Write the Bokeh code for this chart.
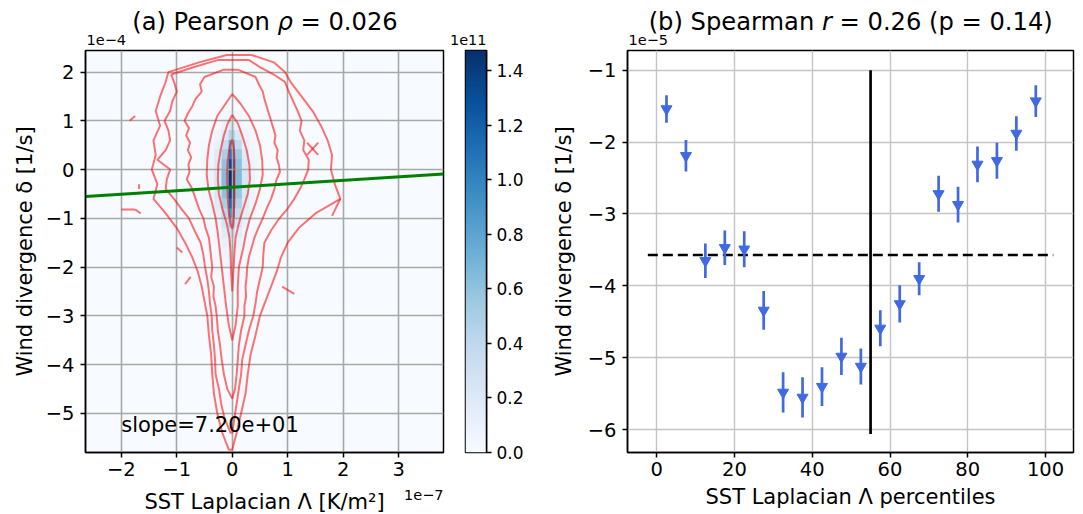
import numpy as np
from bokeh.plotting import figure
from bokeh.layouts import row, column
from bokeh.models import (Range1d, CustomJSTickFormatter, PrintfTickFormatter, Label,
                          LinearColorMapper, ColumnDataSource)
from bokeh.palettes import Blues256
from bokeh.embed import file_html
from bokeh.resources import INLINE

FONT = "DejaVu Sans"

# ---------------------------------------------------------------- panel (b) data
# SST Laplacian percentile bins (bin centres) and mean wind divergence [1e-5 1/s]
pct_centers = [2.5, 7.5, 12.5, 17.5, 22.5, 27.5, 32.5, 37.5, 42.5, 47.5,
               52.5, 57.5, 62.5, 67.5, 72.5, 77.5, 82.5, 87.5, 92.5, 97.5]
div_mean = [-1.54, -2.19, -3.65, -3.47, -3.49, -4.34, -5.48, -5.55, -5.40, -4.98,
            -5.12, -4.59, -4.25, -3.90, -2.72, -2.87, -2.31, -2.26, -1.88, -1.43]
div_err = [0.19, 0.22, 0.24, 0.24, 0.25, 0.27, 0.28, 0.28, 0.27, 0.26,
           0.25, 0.25, 0.26, 0.23, 0.25, 0.25, 0.25, 0.25, 0.24, 0.22]
zero_lap_pct = 55.0                 # percentile where the Laplacian changes sign
zero_line_extent = [-6.06, -1.0]
mean_line_extent = [-2.3, 102.0]
spearman_r = 0.26
spearman_p = 0.14

# ---------------------------------------------------------------- panel (a) data
pearson_rho = 0.026
slope = 72.0                        # [1/s per K/m^2]
intercept = -3.63e-5                # [1/s]
lap_domain = [-2.646, 3.81]         # [1e-7 K/m^2]
div_domain = [-5.805, 2.443]        # [1e-4 1/s]

# joint density (1e11), bins of 0.12e-7 K/m^2 by 0.2e-4 1/s, rows from top to bottom
dens_x_edges = [-0.56, -0.44, -0.32, -0.20, -0.08, 0.04, 0.16, 0.28, 0.40, 0.52]
dens_y_top, dens_y_bottom = 1.2, -3.0
density_rows = [
    [0.00, 0.01, 0.02, 0.05, 0.10, 0.05, 0.02, 0.01, 0.00],
    [0.01, 0.02, 0.04, 0.10, 0.22, 0.10, 0.04, 0.02, 0.01],
    [0.01, 0.03, 0.08, 0.20, 0.45, 0.22, 0.08, 0.03, 0.01],
    [0.02, 0.05, 0.12, 0.35, 0.80, 0.38, 0.12, 0.05, 0.02],
    [0.03, 0.07, 0.18, 0.50, 1.05, 0.55, 0.18, 0.07, 0.03],
    [0.03, 0.08, 0.22, 0.60, 1.30, 0.62, 0.22, 0.08, 0.03],
    [0.04, 0.09, 0.24, 0.65, 1.475, 0.66, 0.24, 0.09, 0.04],
    [0.04, 0.09, 0.24, 0.65, 1.45, 0.64, 0.24, 0.09, 0.04],
    [0.03, 0.08, 0.22, 0.60, 1.35, 0.58, 0.22, 0.08, 0.03],
    [0.03, 0.07, 0.18, 0.50, 1.15, 0.48, 0.18, 0.07, 0.03],
    [0.02, 0.05, 0.14, 0.40, 0.90, 0.38, 0.14, 0.05, 0.02],
    [0.02, 0.04, 0.10, 0.28, 0.60, 0.26, 0.10, 0.04, 0.02],
    [0.01, 0.03, 0.07, 0.18, 0.35, 0.16, 0.07, 0.03, 0.01],
    [0.01, 0.02, 0.05, 0.12, 0.22, 0.10, 0.05, 0.02, 0.01],
    [0.00, 0.01, 0.04, 0.08, 0.16, 0.07, 0.03, 0.01, 0.00],
    [0.00, 0.01, 0.03, 0.06, 0.12, 0.05, 0.02, 0.01, 0.00],
    [0.00, 0.00, 0.02, 0.04, 0.10, 0.04, 0.02, 0.00, 0.00],
    [0.00, 0.00, 0.01, 0.03, 0.08, 0.03, 0.01, 0.00, 0.00],
    [0.00, 0.00, 0.01, 0.02, 0.06, 0.02, 0.01, 0.00, 0.00],
    [0.00, 0.00, 0.00, 0.01, 0.04, 0.01, 0.00, 0.00, 0.00],
    [0.00, 0.00, 0.00, 0.01, 0.03, 0.01, 0.00, 0.00, 0.00],
]
density_max = 1.475

# contour levels of the joint count: (divergence, left edge, right edge)
contour_levels = [
    ([0.62, 0.45, 0.2, 0.0, -0.3, -0.6, -0.9, -1.1, -1.22],
     [0.0, -0.05, -0.08, -0.09, -0.09, -0.08, -0.06, -0.03, 0.0],
     [0.0, 0.03, 0.04, 0.04, 0.04, 0.04, 0.03, 0.02, 0.0]),
    ([1.12, 0.95, 0.7, 0.4, 0.1, -0.2, -0.5, -0.8, -1.1, -1.4, -1.7, -2.1, -2.5],
     [0.0, -0.08, -0.15, -0.21, -0.25, -0.26, -0.24, -0.18, -0.10, -0.05, -0.03, -0.02, 0.0],
     [0.0, 0.10, 0.18, 0.26, 0.31, 0.32, 0.28, 0.20, 0.12, 0.06, 0.04, 0.02, 0.0]),
    ([1.55, 1.35, 1.1, 0.8, 0.5, 0.2, -0.1, -0.4, -0.7, -1.0, -1.3, -1.6, -2.0, -2.4, -2.8, -3.2, -3.5],
     [0.0, -0.12, -0.27, -0.36, -0.42, -0.45, -0.46, -0.43, -0.36, -0.30, -0.26, -0.23, -0.19, -0.15, -0.11, -0.06, 0.0],
     [0.0, 0.15, 0.30, 0.42, 0.50, 0.54, 0.55, 0.50, 0.42, 0.32, 0.25, 0.20, 0.12, 0.10, 0.10, 0.06, 0.0]),
    ([2.05, 1.9, 1.75, 1.6, 1.45, 1.3, 1.15, 1.0, 0.85, 0.7, 0.55, 0.4, 0.25, 0.1, -0.05, -0.2,
      -0.4, -0.6, -0.8, -1.0, -1.2, -1.4, -1.6, -1.8, -2.0, -2.2, -2.4, -2.6, -2.8, -3.0,
      -3.3, -3.6, -3.9, -4.2, -4.5, -4.7],
     [-0.15, -0.5, -0.58, -0.55, -0.66, -0.72, -0.80, -0.86, -0.78, -0.83, -0.76, -0.80, -0.74,
      -0.79, -0.77, -0.82, -0.72, -0.66, -0.60, -0.52, -0.48, -0.42, -0.40, -0.38, -0.36, -0.38,
      -0.33, -0.34, -0.30, -0.28, -0.26, -0.22, -0.19, -0.15, -0.09, 0.0],
     [0.1, 0.42, 0.48, 0.55, 0.58, 0.62, 0.66, 0.70, 0.74, 0.78, 0.76, 0.82, 0.80, 0.84, 0.86,
      0.80, 0.76, 0.70, 0.62, 0.55, 0.47, 0.40, 0.35, 0.30, 0.27, 0.26, 0.24, 0.25, 0.22, 0.22,
      0.16, 0.12, 0.10, 0.08, 0.05, 0.0]),
    ([2.25, 2.1, 1.95, 1.8, 1.6, 1.4, 1.2, 1.0, 0.8, 0.6, 0.4, 0.2, 0.0, -0.2, -0.4, -0.6, -0.8,
      -1.0, -1.25, -1.5, -1.75, -2.0, -2.25, -2.5, -2.75, -3.0, -3.3, -3.6, -3.9, -4.2, -4.5,
      -4.8, -5.1, -5.4],
     [-0.25, -0.7, -1.1, -1.05, -1.0, -1.08, -1.12, -1.22, -1.15, -1.12, -1.2, -1.35, -1.12,
      -1.18, -1.2, -1.05, -0.92, -0.78, -0.68, -0.57, -0.52, -0.49, -0.45, -0.42, -0.40, -0.37,
      -0.36, -0.33, -0.31, -0.30, -0.24, -0.20, -0.14, -0.03],
     [0.3, 0.5, 0.75, 0.95, 1.02, 1.1, 1.18, 1.25, 1.22, 1.3, 1.28, 1.38, 1.37, 1.3, 1.22, 1.12,
      1.0, 0.85, 0.70, 0.58, 0.56, 0.55, 0.50, 0.45, 0.42, 0.38, 0.30, 0.24, 0.18, 0.16, 0.12,
      0.08, 0.04, 0.0]),
    ([2.35, 2.2, 2.0, 1.8, 1.5, 1.2, 0.9, 0.6, 0.3, 0.0, -0.3, -0.6, -0.9, -1.2, -1.5, -1.8,
      -2.1, -2.4, -2.7, -3.0, -3.4, -3.8, -4.2, -4.6, -5.0, -5.4, -5.75],
     [-0.1, -0.6, -1.15, -1.2, -1.3, -1.38, -1.3, -1.42, -1.38, -1.45, -1.35, -1.42, -1.2, -1.0,
      -0.85, -0.72, -0.62, -0.55, -0.5, -0.45, -0.42, -0.38, -0.36, -0.33, -0.27, -0.18, -0.06],
     [0.35, 0.75, 0.95, 1.05, 1.25, 1.45, 1.6, 1.72, 1.8, 1.78, 1.85, 1.95, 1.5, 1.2, 1.0, 0.88,
      0.8, 0.7, 0.6, 0.5, 0.42, 0.33, 0.28, 0.24, 0.16, 0.08, 0.0]),
]
# isolated contour pieces around the outer level
frag_x0 = [-1.85, -2.0, -1.75, -1.68, 1.35, 1.35, 1.95, 0.9, -1.0, -0.85]
frag_y0 = [1.0, -0.82, -0.82, -0.3, 0.55, 0.3, -0.6, -2.4, -1.6, -2.35]
frag_x1 = [-1.75, -1.75, -1.65, -1.68, 1.55, 1.55, 1.8, 1.12, -0.9, -0.75]
frag_y1 = [1.1, -0.82, -0.9, -0.4, 0.3, 0.55, -0.95, -2.55, -1.7, -2.2]

cb_ticks = [0.0, 0.2, 0.4, 0.6, 0.8, 1.0, 1.2, 1.4]
a_xticks = [-2, -1, 0, 1, 2, 3]
a_yticks = [-5, -4, -3, -2, -1, 0, 1, 2]
b_xticks = [0, 20, 40, 60, 80, 100]
b_yticks = [-6, -5, -4, -3, -2, -1]

# ---------------------------------------------------------------- page geometry (px)
PAGE_W, PAGE_H = 1083, 514
TOP_H, BOTTOM_H = 49, 28
FRAME_H = 402
A_LEFT, A_FRAME_W, A_RIGHT = 85, 358, 12
CB_LEFT, CB_FRAME_W, CB_RIGHT = 10, 21, 54
B_LEFT, B_FRAME_W, B_RIGHT = 87, 446, 10
MAIN_TOP, MAIN_BOTTOM = 1, 34

a_x0 = A_LEFT
a_x1 = A_LEFT + A_FRAME_W
cb_x1 = a_x1 + A_RIGHT + CB_LEFT + CB_FRAME_W
b_x0 = cb_x1 + CB_RIGHT + B_LEFT
b_x1 = b_x0 + B_FRAME_W
frame_top = TOP_H + MAIN_TOP

TICK_PX = "19.5px"
LABEL_F = 21.0
TITLE_F = 24.2
OFFSET_F = 14.5
MID = 0.346          # baseline-to-middle distance of DejaVu Sans, in em

minus_fmt = CustomJSTickFormatter(code="""
    const v = Math.round(tick * 1000) / 1000;
    return (v < 0 ? '\u2212' : '') + Math.abs(v).toString();
""")

# light -> dark
pal = list(Blues256)
if int(pal[0][1:3], 16) < 128:
    pal = pal[::-1]
mapper = LinearColorMapper(palette=pal, low=0.0, high=density_max)


def style_axes(p, label_standoff_y):
    for ax in (p.xaxis[0], p.yaxis[0]):
        ax.major_label_text_font = FONT
        ax.major_label_text_font_size = TICK_PX
        ax.major_label_text_color = "black"
        ax.axis_label_text_font = FONT
        ax.axis_label_text_font_size = f"{LABEL_F}px"
        ax.axis_label_text_font_style = "normal"
        ax.axis_label_text_color = "black"
        ax.axis_line_color = "black"
        ax.axis_line_width = 1.5
        ax.major_tick_line_color = "black"
        ax.major_tick_line_width = 1.5
        ax.major_tick_out = 5
        ax.major_tick_in = 0
        ax.minor_tick_line_color = None
        ax.formatter = minus_fmt
    p.yaxis[0].major_label_standoff = 6
    p.xaxis[0].major_label_standoff = 4
    p.yaxis[0].axis_label_standoff = label_standoff_y
    p.outline_line_color = "black"
    p.outline_line_width = 1.5


def add_text(p, x, y, text, f, align="left", style="normal"):
    # (x, y) is the vertical middle of the text line
    p.add_layout(Label(x=x, y=y, text=text,
                       text_font=FONT, text_font_size=f"{f}px", text_align=align,
                       text_baseline="middle", text_font_style=style,
                       text_color="black"))


def strip_add(strip, x, page_baseline, text, f, align="left", style="normal"):
    # place a line of text in a strip by its baseline, given in page pixels
    top_px = strip.tags[0]
    y_mid = strip.frame_height - (page_baseline - MID * f - top_px)
    add_text(strip, x, y_mid, text, f, align=align, style=style)


def strip_title(strip, xc, baseline, pre, ital, post, pre_em, ital_em, post_em):
    # title with one italic symbol, laid out from DejaVu Sans advance widths
    f = TITLE_F
    sp = 0.318 * f
    width = (pre_em + ital_em + post_em) * f + 2 * sp
    ital_left = xc - width / 2 + pre_em * f + sp
    strip_add(strip, ital_left - sp, baseline, pre, f, align="right")
    strip_add(strip, ital_left, baseline, ital, f, align="left", style="italic")
    strip_add(strip, ital_left + ital_em * f + sp, baseline, post, f, align="left")


def text_strip(height, top_px):
    s = figure(frame_width=PAGE_W, frame_height=height,
               min_border=0, min_border_left=0, min_border_right=0,
               min_border_top=0, min_border_bottom=0,
               x_range=Range1d(0, PAGE_W), y_range=Range1d(0, height),
               x_axis_location=None, y_axis_location=None,
               output_backend="svg", toolbar_location=None, tags=[top_px])
    s.grid.visible = False
    s.outline_line_color = None
    return s


# ---------------------------------------------------------------- panel (a)
pa = figure(frame_width=A_FRAME_W, frame_height=FRAME_H,
            min_border_left=A_LEFT, min_border_right=A_RIGHT,
            min_border_top=MAIN_TOP, min_border_bottom=MAIN_BOTTOM,
            x_range=Range1d(*lap_domain), y_range=Range1d(*div_domain),
            output_backend="svg", toolbar_location=None,
            background_fill_color=pal[0], border_fill_color="white")
pa.xaxis.ticker = a_xticks
pa.yaxis.ticker = a_yticks
pa.yaxis.axis_label = "Wind divergence \u03b4 [1/s]"
style_axes(pa, 6)
pa.grid.grid_line_color = "#a8a8a8"
pa.grid.grid_line_width = 1.6

dens = np.array(density_rows)[::-1]
pa.image(image=[dens], x=dens_x_edges[0], y=dens_y_bottom,
         dw=dens_x_edges[-1] - dens_x_edges[0], dh=dens_y_top - dens_y_bottom,
         color_mapper=mapper, level="image")

cxs, cys = [], []
for yv, xl, xr in contour_levels:
    cxs.append(list(xr) + list(xl)[::-1] + [xr[0]])
    cys.append(list(yv) + list(yv)[::-1] + [yv[0]])
pa.multi_line(xs=cxs, ys=cys, line_color="red", line_alpha=0.55, line_width=2)
pa.segment(x0=frag_x0, y0=frag_y0, x1=frag_x1, y1=frag_y1,
           line_color="red", line_alpha=0.55, line_width=2)

# least-squares fit, in the scaled axis units (1e-7 K/m^2, 1e-4 1/s)
fit_x = np.array(lap_domain)
fit_y = (slope * fit_x * 1e-7 + intercept) / 1e-4
pa.line(fit_x, fit_y, line_color="green", line_width=3)

ax0, ax1 = lap_domain
ay0, ay1 = div_domain
px_per_y = FRAME_H / (ay1 - ay0)
add_text(pa, ax0 + 0.1 * (ax1 - ax0), ay0 + 0.05 * (ay1 - ay0) + MID * LABEL_F / px_per_y,
         f"slope={slope:.2e}", LABEL_F)

# ---------------------------------------------------------------- colour bar
cb = figure(frame_width=CB_FRAME_W, frame_height=FRAME_H,
            min_border_left=CB_LEFT, min_border_right=CB_RIGHT,
            min_border_top=MAIN_TOP, min_border_bottom=MAIN_BOTTOM,
            x_range=Range1d(0, 1), y_range=Range1d(0, density_max),
            x_axis_location=None, y_axis_location="right",
            output_backend="svg", toolbar_location=None)
cb.grid.visible = False
grad = np.linspace(0, density_max, 256).reshape(256, 1)
cb.image(image=[grad], x=0, y=0, dw=1, dh=density_max, color_mapper=mapper)
cax = cb.yaxis[0]
cax.ticker = cb_ticks
cax.formatter = PrintfTickFormatter(format="%.1f")
cax.major_label_text_font = FONT
cax.major_label_text_font_size = "17px"
cax.major_label_text_color = "black"
cax.major_tick_out = 5
cax.major_tick_in = 0
cax.major_tick_line_width = 1.5
cax.minor_tick_line_color = None
cax.axis_line_width = 1.5
cax.major_label_standoff = 5
cb.outline_line_color = "black"
cb.outline_line_width = 1.5

# ---------------------------------------------------------------- panel (b)
bx0, bx1 = -7.53, 107.2
by0, by1 = -6.316, -0.727
pb = figure(frame_width=B_FRAME_W, frame_height=FRAME_H,
            min_border_left=B_LEFT, min_border_right=B_RIGHT,
            min_border_top=MAIN_TOP, min_border_bottom=MAIN_BOTTOM,
            x_range=Range1d(bx0, bx1), y_range=Range1d(by0, by1),
            output_backend="svg", toolbar_location=None)
pb.xaxis.ticker = b_xticks
pb.yaxis.ticker = b_yticks
pb.yaxis.axis_label = "Wind divergence \u03b4 [1/s]"
style_axes(pb, 9)
pb.grid.grid_line_color = "#c4c4c4"
pb.grid.grid_line_width = 1.4

src = ColumnDataSource(dict(
    x=pct_centers, y=div_mean,
    lo=[m - e for m, e in zip(div_mean, div_err)],
    hi=[m + e for m, e in zip(div_mean, div_err)],
))
overall = float(np.mean(div_mean))
pb.line(mean_line_extent, [overall, overall], line_color="black", line_width=2.5, line_dash="10 5")
pb.line([zero_lap_pct, zero_lap_pct], zero_line_extent, line_color="black", line_width=2.7)
pb.segment(x0="x", y0="lo", x1="x", y1="hi", source=src, line_color="#4169e1", line_width=2.7)
pb.scatter(x="x", y="y", source=src, marker="inverted_triangle", size=11,
           fill_color="#4169e1", line_color="#4169e1")

# ---------------------------------------------------------------- titles, labels, offsets
top = text_strip(TOP_H, 0)
strip_title(top, (a_x0 + a_x1) / 2, 29.5, "(a) Pearson", "\u03c1", f"= {pearson_rho:.3f}",
            5.72, 0.635, 4.018)
strip_title(top, (b_x0 + b_x1) / 2, 29.5, "(b) Spearman", "r",
            f"= {spearman_r:.2f} (p = {spearman_p:.2f})", 6.863, 0.411, 8.815)
strip_add(top, a_x0 + 1, frame_top - 5, "1e\u22124", OFFSET_F)
strip_add(top, cb_x1, frame_top - 5, "1e11", OFFSET_F, align="right")
strip_add(top, b_x0 + 1, frame_top - 5, "1e\u22125", OFFSET_F)

bottom = text_strip(BOTTOM_H, PAGE_H - BOTTOM_H)
strip_add(bottom, (a_x0 + a_x1) / 2, 508.5, "SST Laplacian \u039b [K/m\u00b2]", LABEL_F, align="center")
strip_add(bottom, a_x1, 500, "1e\u22127", OFFSET_F, align="right")
strip_add(bottom, (b_x0 + b_x1) / 2, 504, "SST Laplacian \u039b percentiles", LABEL_F, align="center")

layout = column(top, row(pa, cb, pb, spacing=0), bottom, spacing=0)
open("out.html", "w").write(file_html(layout, INLINE))
